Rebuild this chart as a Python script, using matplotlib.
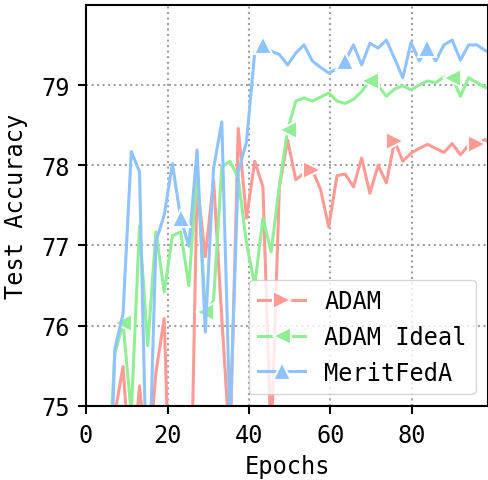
import numpy as np
import matplotlib
matplotlib.use("Agg")
import matplotlib.pyplot as plt

# one evaluation every ~2 epochs
epochs = np.linspace(1, 100, 50)

adam = [73.0, 73.5, 74.0, 74.9, 75.49, 74.0, 75.25, 74.2, 75.42, 76.09,
        72.8, 72.6, 72.5, 77.78, 76.86, 77.82, 76.1, 74.47, 78.46, 77.34,
        78.05, 77.73, 74.5, 77.73, 78.31, 77.82, 77.9, 77.94, 77.7, 77.23,
        77.87, 77.89, 77.73, 78.09, 77.65, 78.0, 77.78, 78.3, 78.05, 78.15,
        78.21, 78.26, 78.21, 78.16, 78.27, 78.13, 78.25, 78.26, 78.32, 78.25]

adam_ideal = [73.5, 73.6, 73.75, 75.65, 76.03, 74.9, 77.24, 75.75, 77.17, 76.42,
              77.12, 77.17, 76.5, 77.96, 76.17, 76.31, 77.98, 78.05, 77.84, 77.03,
              76.5, 77.34, 76.92, 77.75, 78.44, 78.8, 78.84, 78.8, 78.85, 78.9,
              78.8, 78.77, 78.82, 78.92, 79.05, 78.99, 78.86, 78.95, 78.99, 78.94,
              79.0, 79.05, 79.03, 79.1, 79.09, 78.86, 79.09, 79.03, 78.97, 78.95]

meritfeda = [71.5, 72.0, 72.5, 75.71, 76.15, 78.17, 77.92, 73.5, 77.05, 77.38,
             78.02, 77.34, 76.99, 78.19, 75.92, 77.96, 78.54, 74.8, 77.92, 78.29,
             79.4, 79.5, 79.42, 79.38, 79.25, 79.4, 79.5, 79.3, 79.22, 79.15,
             79.2, 79.3, 79.5, 79.25, 79.52, 79.46, 79.56, 79.33, 79.09, 79.53,
             79.3, 79.46, 79.3, 79.5, 79.56, 79.31, 79.5, 79.5, 79.43, 79.4]

labels = ["ADAM", "ADAM Ideal", "MeritFedA"]
xticks = [0, 20, 40, 60, 80]
yticks = [75, 76, 77, 78, 79]


def visualization():
    plt.rcParams["font.family"] = "DejaVu Sans Mono"
    plt.rcParams["font.size"] = 17

    fig = plt.figure(figsize=(4.89, 4.81), dpi=100)
    ax = fig.add_axes([0.176, 0.154, 0.822, 0.834])

    style = dict(linewidth=2.2, markersize=13, markeredgecolor="white", markeredgewidth=1.5)
    ax.plot(epochs, adam, color="#ff9a94", marker=">", markevery=(7, 10), label=labels[0], **style)
    ax.plot(epochs, adam_ideal, color="#90ee95", marker="<", markevery=(4, 10), label=labels[1], **style)
    ax.plot(epochs, meritfeda, color="#8fc3ff", marker="^", markevery=(1, 10), label=labels[2], **style)

    ax.set_xlim(0, 98.7)
    ax.set_ylim(75, 80)
    ax.set_xticks(xticks)
    ax.set_yticks(yticks)
    ax.grid(True, linestyle=":", color="#a0a0a0", linewidth=1.5)
    for sp in ax.spines.values():
        sp.set_linewidth(1.5)
    ax.tick_params(width=1.5, length=6, pad=6)
    ax.set_xlabel("Epochs", labelpad=5)
    ax.set_ylabel("Test Accuracy", labelpad=9)
    ax.legend(loc="lower right")

    fig.savefig("out.png", dpi=100)


visualization()
